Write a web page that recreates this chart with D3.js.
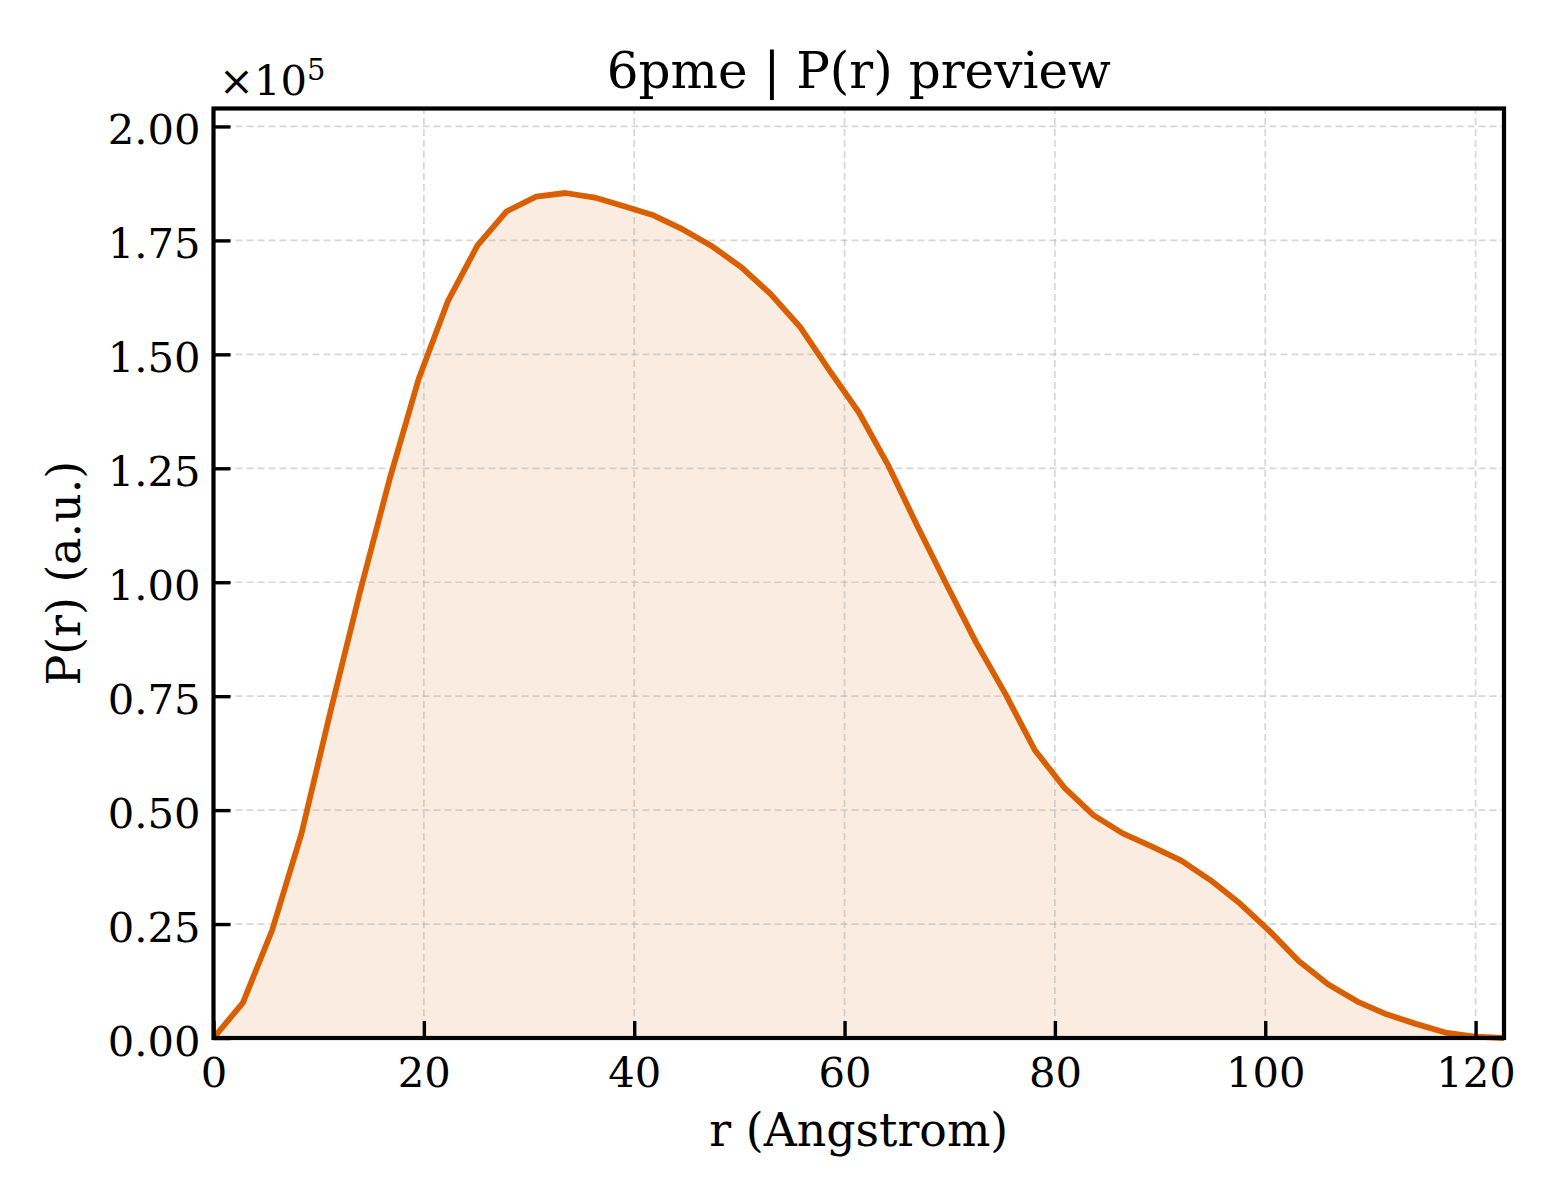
<!DOCTYPE html>
<html>
<head>
<meta charset="utf-8">
<script src="https://cdn.jsdelivr.net/npm/d3@7"></script>
<style>
  body { margin: 0; background: #fff; }
  svg { display: block; font-family: "DejaVu Serif", serif; }
</style>
</head>
<body>
<div id="chart"></div>
<script>
var rValues = [0, 2.79, 5.58, 8.37, 11.16, 13.94, 16.73, 19.52, 22.31, 25.10,
  27.89, 30.68, 33.46, 36.25, 39.04, 41.83, 44.62, 47.41, 50.20, 52.98,
  55.77, 58.56, 61.35, 64.14, 66.93, 69.72, 72.50, 75.29, 78.08, 80.87,
  83.66, 86.45, 89.24, 92.02, 94.81, 97.60, 100.39, 103.18, 105.97, 108.76,
  111.54, 114.33, 117.12, 119.91, 122.70];
var prValues = [0, 7700, 23700, 44900, 72000, 98000, 122500, 144700, 161800, 173900,
  181400, 184600, 185400, 184400, 182500, 180500, 177400, 173700, 169100, 163200,
  156000, 146500, 137300, 125700, 112300, 99400, 86800, 75500, 63200, 55000,
  48900, 44900, 42000, 38900, 34600, 29500, 23500, 16900, 11800, 8000,
  5200, 3100, 1200, 300, 0];
var xTicks = [0, 20, 40, 60, 80, 100, 120];
var yTicks = [0, 25000, 50000, 75000, 100000, 125000, 150000, 175000, 200000];

var width = 1560, height = 1200;
var margin = { top: 108.5, right: 56, bottom: 162, left: 213.5 };
var color = "#d95f02";

var svg = d3.select("#chart").append("svg")
    .attr("width", width)
    .attr("height", height);

var x = d3.scaleLinear()
    .domain([0, d3.max(rValues)])
    .range([margin.left, width - margin.right]);

var y = d3.scaleLinear()
    .domain([0, 1.1 * d3.max(prValues)])
    .range([height - margin.bottom, margin.top]);

var data = rValues.map(function(r, i) { return { r: r, p: prValues[i] }; });

// Filled area under the curve
svg.append("path")
    .datum(data)
    .attr("fill", color)
    .attr("fill-opacity", 0.12)
    .attr("d", d3.area()
      .x(function(d) { return x(d.r); })
      .y0(y(0))
      .y1(function(d) { return y(d.p); }));

// Dashed grid
var grid = svg.append("g").attr("class", "grid")
    .attr("stroke", "#b0b0b0")
    .attr("stroke-opacity", 0.5)
    .attr("stroke-width", 1.7)
    .attr("stroke-dasharray", "7,4");

grid.selectAll(".gx")
    .data(xTicks)
  .enter().append("line")
    .attr("x1", function(d) { return x(d); })
    .attr("x2", function(d) { return x(d); })
    .attr("y1", y.range()[0])
    .attr("y2", y.range()[1]);

grid.selectAll(".gy")
    .data(yTicks)
  .enter().append("line")
    .attr("x1", x.range()[0])
    .attr("x2", x.range()[1])
    .attr("y1", function(d) { return y(d); })
    .attr("y2", function(d) { return y(d); });

// The P(r) line
svg.append("path")
    .datum(data)
    .attr("fill", "none")
    .attr("stroke", color)
    .attr("stroke-width", 5.8)
    .attr("stroke-linejoin", "round")
    .attr("d", d3.line()
      .x(function(d) { return x(d.r); })
      .y(function(d) { return y(d.p); }));

// Axes, ticks pointing inward
var xAxis = svg.append("g")
    .attr("transform", "translate(0," + y(0) + ")")
    .call(d3.axisBottom(x).tickValues(xTicks).tickSize(-17).tickPadding(19)
      .tickFormat(d3.format("d")));

var yAxis = svg.append("g")
    .attr("transform", "translate(" + x(0) + ",0)")
    .call(d3.axisLeft(y).tickValues(yTicks).tickSize(-17).tickPadding(13)
      .tickFormat(function(d) { return (d / 1e5).toFixed(2); }));

[xAxis, yAxis].forEach(function(g) {
  g.select(".domain").remove();
  g.selectAll(".tick line").attr("stroke", "#000").attr("stroke-width", 3.4);
  g.selectAll(".tick text")
      .attr("fill", "#000")
      .style("font-family", "DejaVu Serif")
      .style("font-size", "41.7px");
});
yAxis.selectAll(".tick text").attr("dy", "0.42em");

// Frame
svg.append("rect")
    .attr("x", x.range()[0])
    .attr("y", y.range()[1])
    .attr("width", x.range()[1] - x.range()[0])
    .attr("height", y.range()[0] - y.range()[1])
    .attr("fill", "none")
    .attr("stroke", "#000")
    .attr("stroke-width", 4.2);

// Offset text for the y axis
var offset = svg.append("text")
    .attr("x", 219)
    .attr("y", 95)
    .style("font-size", "41.7px");
offset.append("tspan").text("×10");
offset.append("tspan")
    .attr("dy", -15)
    .style("font-size", "29px")
    .text("5");

// Title and axis labels
svg.append("text")
    .attr("x", (x.range()[0] + x.range()[1]) / 2)
    .attr("y", 88)
    .attr("text-anchor", "middle")
    .style("font-size", "50px")
    .text("6pme | P(r) preview");

svg.append("text")
    .attr("x", (x.range()[0] + x.range()[1]) / 2)
    .attr("y", 1146)
    .attr("text-anchor", "middle")
    .style("font-size", "45.8px")
    .text("r (Angstrom)");

svg.append("text")
    .attr("transform", "translate(80," + (y.range()[0] + y.range()[1]) / 2 + ") rotate(-90)")
    .attr("text-anchor", "middle")
    .style("font-size", "45.8px")
    .text("P(r) (a.u.)");
</script>
</body>
</html>
